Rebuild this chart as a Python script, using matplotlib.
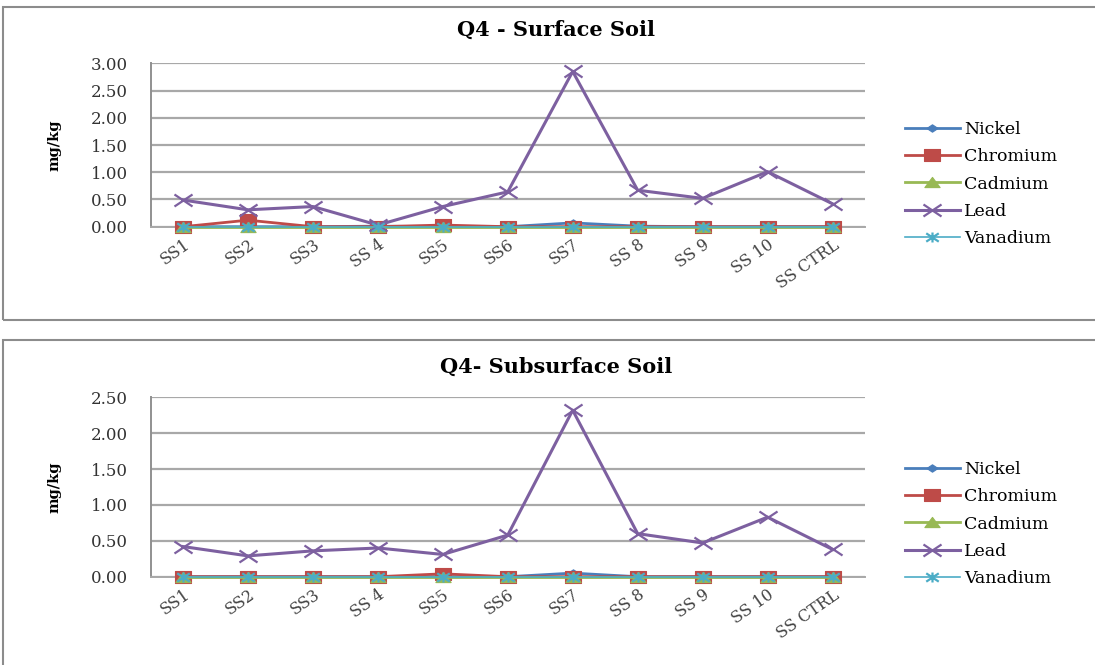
import numpy as np
import matplotlib
matplotlib.use("Agg")
import matplotlib.pyplot as plt
from matplotlib.path import Path
from matplotlib.patches import Rectangle

# sampling sites
sites = ["SS1", "SS2", "SS3", "SS 4", "SS5", "SS6", "SS7", "SS 8", "SS 9", "SS 10", "SS CTRL"]
metals = ["Nickel", "Chromium", "Cadmium", "Lead", "Vanadium"]

# Q4 surface soil, mg/kg
surf_nickel = [0.0, 0.0, 0.0, 0.01, 0.0, 0.0, 0.07, 0.01, 0.0, 0.0, 0.0]
surf_chromium = [0.0, 0.12, 0.0, 0.0, 0.03, 0.0, 0.0, 0.0, 0.0, 0.0, 0.0]
surf_cadmium = [0.0, 0.0, 0.0, 0.0, 0.0, 0.0, 0.0, 0.0, 0.0, 0.0, 0.0]
surf_lead = [0.49, 0.31, 0.37, 0.03, 0.37, 0.64, 2.85, 0.67, 0.52, 1.01, 0.42]
surf_vanadium = [0.0, 0.0, 0.0, 0.0, 0.0, 0.0, 0.0, 0.0, 0.0, 0.0, 0.0]

# Q4 subsurface soil, mg/kg
sub_nickel = [0.0, 0.0, 0.0, 0.0, 0.0, 0.0, 0.05, 0.0, 0.0, 0.0, 0.0]
sub_chromium = [0.0, 0.0, 0.0, 0.0, 0.04, 0.0, 0.0, 0.0, 0.0, 0.0, 0.0]
sub_cadmium = [0.0, 0.0, 0.0, 0.0, 0.0, 0.0, 0.0, 0.0, 0.0, 0.0, 0.0]
sub_lead = [0.42, 0.29, 0.36, 0.40, 0.31, 0.58, 2.32, 0.60, 0.47, 0.83, 0.38]
sub_vanadium = [0.0, 0.0, 0.0, 0.0, 0.0, 0.0, 0.0, 0.0, 0.0, 0.0, 0.0]

colors = ["#4A7EBB", "#BE4B48", "#98B954", "#7D60A0", "#4BACC6"]

# slightly wide marker shapes
M, L = Path.MOVETO, Path.LINETO
wide_square = Path([(-1.5, -1), (1.5, -1), (1.5, 1), (-1.5, 1), (-1.5, -1)],
                   [M, L, L, L, Path.CLOSEPOLY])
wide_diamond = Path([(-1.5, 0), (0, 1), (1.5, 0), (0, -1), (-1.5, 0)],
                    [M, L, L, L, Path.CLOSEPOLY])
wide_tri = Path([(-1.5, -1), (1.5, -1), (0, 1), (-1.5, -1)], [M, L, L, Path.CLOSEPOLY])
wide_x = Path([(-1.5, -1), (1.5, 1), (-1.5, 1), (1.5, -1)], [M, L, M, L])
star = Path([(-1.5, -1), (1.5, 1), (-1.5, 1), (1.5, -1), (0, -1.2), (0, 1.2)],
            [M, L, M, L, M, L])
markers = [wide_diamond, wide_square, wide_tri, wide_x, star]
msizes = [8, 12, 11, 13, 9]
lws = [2.0, 2.0, 2.0, 2.2, 1.2]

W, H = 1095, 665
fig = plt.figure(figsize=(W / 100, H / 100), dpi=100)
fig.patch.set_facecolor("white")

serif = "DejaVu Serif"


def px_axes(left, top, right, bottom):
    return fig.add_axes([left / W, 1 - bottom / H, (right - left) / W, (bottom - top) / H])


def draw_panel(ax, series, ymax, title, title_y, leg_top):
    x = np.arange(len(sites))
    handles = []
    for i, vals in enumerate(series):
        mfc = colors[i] if i < 3 else "none"
        h, = ax.plot(x, vals, color=colors[i], lw=lws[i], marker=markers[i],
                     markersize=msizes[i], markerfacecolor=mfc,
                     markeredgecolor=colors[i], markeredgewidth=1.6 if i >= 3 else 0.8,
                     label=metals[i], zorder=3 + i, clip_on=False)
        handles.append(h)
    ax.set_xlim(-0.5, len(sites) - 0.5)
    ax.set_ylim(0, ymax)
    ticks = np.arange(0, ymax + 0.01, 0.5)
    ax.set_yticks(ticks)
    ax.set_yticklabels(["%.2f" % v for v in ticks],
                       family=serif, fontsize=12, color="#333333")
    ax.set_xticks(x)
    ax.set_xticklabels(sites, rotation=35, ha="right", rotation_mode="anchor",
                       family=serif, fontsize=11.5, color="#444444")
    ax.tick_params(axis="y", length=0, pad=16)
    ax.tick_params(axis="x", length=0, pad=7)
    ax.grid(axis="y", color="#a8a8a8", lw=1.6)
    ax.set_axisbelow(True)
    for s in ["top", "right"]:
        ax.spines[s].set_visible(False)
    ax.spines["left"].set_color("#909090")
    ax.spines["left"].set_linewidth(1.4)
    ax.spines["bottom"].set_color("#a8a8a8")
    ax.spines["bottom"].set_linewidth(1.4)

    fig.text(556 / W, 1 - title_y / H, title, ha="center", va="center",
             family=serif, fontweight="bold", fontsize=15)
    pos = ax.get_position()
    fig.text(54 / W, pos.y0 + pos.height / 2, "mg/kg", rotation=90, ha="center",
             va="center", family=serif, fontweight="bold", fontsize=10.5)
    fig.legend(handles=handles, loc="upper left",
               bbox_to_anchor=(896 / W, 1 - leg_top / H), frameon=False,
               prop={"family": serif, "size": 12.5}, handlelength=3.2,
               handletextpad=0.2, labelspacing=0.6, borderpad=0)


# panel frames
fig.add_artist(Rectangle((3 / W, 1 - 320 / H), 1.1, 313 / H, transform=fig.transFigure,
                         facecolor="none", edgecolor="#8c8c8c", lw=1.5))
fig.add_artist(Rectangle((3 / W, 1 - 668 / H), 1.1, 328 / H, transform=fig.transFigure,
                         facecolor="none", edgecolor="#8c8c8c", lw=1.5))

ax1 = px_axes(150.5, 63.3, 865, 226.7)
draw_panel(ax1, [surf_nickel, surf_chromium, surf_cadmium, surf_lead, surf_vanadium],
           3.0, "Q4 - Surface Soil", 30, 112)

ax2 = px_axes(150.5, 397.3, 865, 576.7)
draw_panel(ax2, [sub_nickel, sub_chromium, sub_cadmium, sub_lead, sub_vanadium],
           2.5, "Q4- Subsurface Soil", 367, 452)

fig.savefig("out.png", dpi=100)
